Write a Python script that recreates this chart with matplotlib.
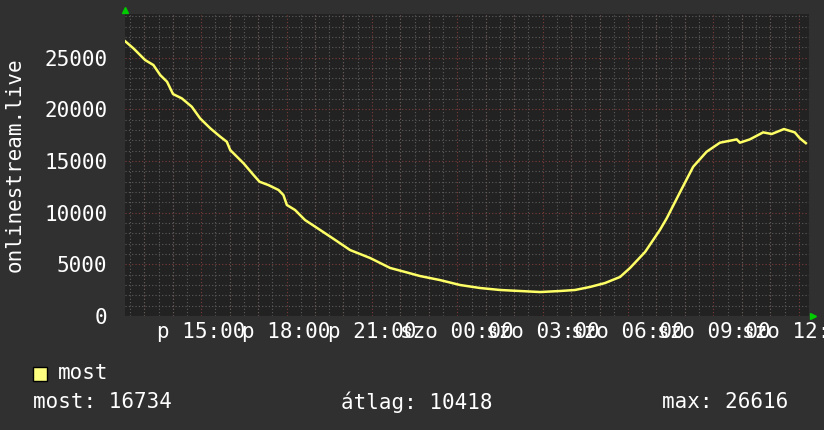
import matplotlib
matplotlib.use("Agg")
import matplotlib.pyplot as plt
from matplotlib.ticker import MultipleLocator

# time in hours since friday 00:00, value = listeners
hours = [12.33, 12.62, 13.03, 13.32, 13.56, 13.80, 14.01, 14.32, 14.67, 14.96,
         15.32, 15.67, 15.90, 16.02, 16.49, 16.84, 17.05, 17.36, 17.72, 17.89,
         18.01, 18.30, 18.65, 19.18, 19.71, 20.23, 20.94, 21.64, 22.17, 22.69,
         23.39, 24.10, 24.80, 25.50, 26.20, 26.91, 27.61, 28.14, 28.66, 29.19,
         29.72, 30.07, 30.60, 31.12, 31.36, 31.83, 32.29, 32.76, 33.23, 33.82,
         33.93, 34.28, 34.75, 35.05, 35.48, 35.86, 36.04, 36.25]
listeners = [26600, 25910, 24780, 24300, 23330, 22680, 21490, 21070, 20260, 19140,
             18170, 17360, 16870, 16070, 14780, 13650, 13000, 12680, 12200, 11710,
             10750, 10260, 9290, 8330, 7360, 6390, 5610, 4650, 4260, 3870,
             3480, 3000, 2710, 2520, 2420, 2320, 2420, 2520, 2810, 3190,
             3780, 4650, 6200, 8330, 9460, 12000, 14450, 15900, 16780, 17100,
             16780, 17100, 17780, 17620, 18100, 17780, 17200, 16734]

tick_hours = [15, 18, 21, 24, 27, 30, 33, 36]
tick_labels = ["p 15:00", "p 18:00", "p 21:00", "szo 00:00",
               "szo 03:00", "szo 06:00", "szo 09:00", "szo 12:00"]

y_label = "onlinestream.live"
series_name = "most"
stats = [("most: 16734", 33), ("átlag: 10418", 341), ("max: 26616", 662)]

BG = "#303030"
PLOT_BG = "#222222"
LINE = "#ffff66"
MAJOR = "#7e3a3a"
MINOR = "#5c5c5c"

plt.rcParams["font.family"] = "DejaVu Sans Mono"

fig = plt.figure(figsize=(8.24, 4.30), dpi=100, facecolor=BG)
ax = fig.add_axes([125.5 / 824, 1 - 316 / 430, (809 - 125.5) / 824, (316 - 14) / 430])
ax.set_facecolor(PLOT_BG)

ax.set_xlim(12.34, 36.36)
ax.set_ylim(0, 29240)

# grid like rrdtool: grey minor, red major, dotted
ax.xaxis.set_minor_locator(MultipleLocator(0.5))
ax.yaxis.set_major_locator(MultipleLocator(5000))
ax.yaxis.set_minor_locator(MultipleLocator(1000))
ax.grid(which="minor", color=MINOR, linestyle=(0, (1, 2)), linewidth=0.8)
ax.grid(which="major", color=MAJOR, linestyle=(0, (1, 2)), linewidth=0.8)
ax.set_axisbelow(True)

ax.set_xticks(tick_hours)
ax.set_xticklabels(tick_labels)
# hourly red lines that are not label positions
for h in range(13, 37):
    if h not in tick_hours:
        ax.axvline(h, color=MAJOR, linestyle=(0, (1, 2)), linewidth=0.8, zorder=0.5)

ax.plot(hours, listeners, color=LINE, linewidth=1.8, solid_joinstyle="round")

ax.tick_params(axis="both", which="both", length=0, colors="white", labelsize=15)
ax.tick_params(axis="x", pad=4)
ax.tick_params(axis="y", pad=13)
for s in ax.spines.values():
    s.set_visible(False)

ax.set_ylabel(y_label, color="white", fontsize=15)
ax.yaxis.set_label_coords(-0.148, 0.5)

# green arrows at axis ends
ax.plot([0], [1.013], marker="^", color="#00cc00", markersize=5,
        transform=ax.transAxes, clip_on=False)
ax.plot([1.006], [0.0], marker=">", color="#00cc00", markersize=5,
        transform=ax.transAxes, clip_on=False)

# legend and stats
fig.patches.append(plt.Rectangle((33 / 824, 1 - 381 / 430), 14 / 824, 14 / 430,
                                 transform=fig.transFigure, facecolor="#ffff80",
                                 edgecolor="black", linewidth=1))
fig.text(58 / 824, 1 - 373 / 430, series_name, color="white", fontsize=15, va="center")
for txt, x in stats:
    fig.text(x / 824, 1 - 402 / 430, txt, color="white", fontsize=15, va="center")

fig.savefig("out.png", dpi=100, facecolor=BG)
